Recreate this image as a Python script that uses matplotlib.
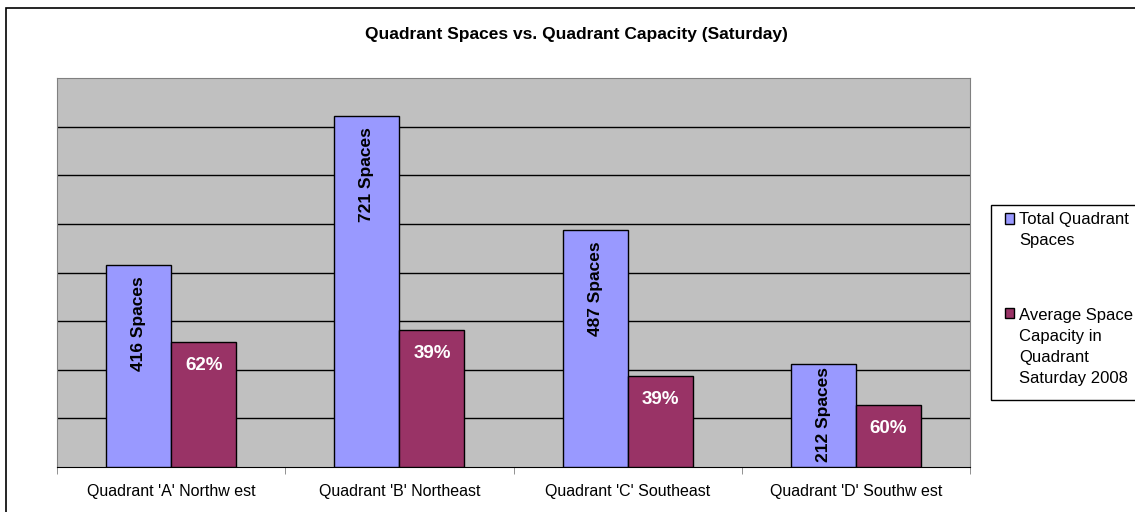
import matplotlib.pyplot as plt
import numpy as np
from matplotlib.patches import Rectangle
from matplotlib.container import BarContainer
from matplotlib.legend_handler import HandlerPatch

plt.rcParams['font.family'] = ['Liberation Sans', 'DejaVu Sans']

# data
quadrants = ["Quadrant 'A' Northw est", "Quadrant 'B' Northeast",
             "Quadrant 'C' Southeast", "Quadrant 'D' Southw est"]
total_spaces = [416, 721, 487, 212]
capacity_pct = [62, 39, 39, 60]
capacity_bar = [257, 282, 187, 127]   # bar heights of the capacity series

W, H = 1135, 512
LEG_FS = 12
LEG_LS = 1.5
fig = plt.figure(figsize=(W / 100, H / 100), dpi=100)

# outer chart border (left and top edges visible)
fig.patches.append(Rectangle((6 / W, -0.1), 1.2, 1 - 8 / H + 0.1,
                             transform=fig.transFigure, fill=False,
                             edgecolor='black', linewidth=1.2))
# legend box, runs off the right edge like the original
fig.patches.append(Rectangle((991 / W, 1 - 400 / H), 0.2, 195 / H,
                             transform=fig.transFigure, fill=True,
                             facecolor='white', edgecolor='black', linewidth=1))

ax = fig.add_axes([57 / W, 45 / H, 913 / W, 389 / H])
x = np.arange(len(quadrants))
w = 0.285

b1 = ax.bar(x - w / 2, total_spaces, w, color='#9999FF', edgecolor='black',
            linewidth=1, label='Total Quadrant\nSpaces', zorder=3)
b2 = ax.bar(x + w / 2, capacity_bar, w, color='#993366', edgecolor='black',
            linewidth=1, label='Average Space\nCapacity in\nQuadrant\nSaturday 2008',
            zorder=3)

space_labels = []
for rect, v in zip(b1, total_spaces):
    t = ax.annotate(f'{v} Spaces', (rect.get_x() + rect.get_width() / 2, rect.get_height()),
                    xytext=(0, -8), textcoords='offset points', rotation=90,
                    ha='center', va='top', fontsize=12.5, fontweight='bold', zorder=4)
    space_labels.append(t)
for rect, p in zip(b2, capacity_pct):
    ax.annotate(f'{p}%', (rect.get_x() + rect.get_width() / 2, rect.get_height()),
                xytext=(0, -17), textcoords='offset points',
                ha='center', va='center', fontsize=13.5, fontweight='bold',
                color='white', zorder=4)

ax.set_xlim(-0.5, 3.5)
ax.set_ylim(0, 800)
ax.set_facecolor('#C0C0C0')
ax.set_yticks(range(100, 800, 100))
ax.yaxis.grid(True, color='black', linewidth=1)
ax.set_axisbelow(True)
ax.tick_params(axis='y', length=0, labelleft=False)

ax.set_xticks(x)
ax.set_xticklabels(quadrants, fontsize=11.5)
ax.set_xticks(np.arange(-0.5, 4, 1), minor=True)
ax.tick_params(axis='x', which='major', length=0, pad=12.5)
ax.tick_params(axis='x', which='minor', length=5, direction='out', color='#808080')

for s in ['left', 'top', 'right']:
    ax.spines[s].set_color('#808080')
ax.spines['bottom'].set_color('black')

fig.text(576 / W, 1 - 35 / H, 'Quadrant Spaces vs. Quadrant Capacity (Saturday)',
         ha='center', va='center', fontsize=12.5, fontweight='bold')


# Excel puts the legend swatch next to the first line of a wrapped label
def top_square(legend, orig_handle, xdescent, ydescent, width, height, fontsize):
    nlines = orig_handle.get_label().count('\n') + 1
    lift = (nlines - 1) * 0.5 * fontsize * 0.9 * LEG_LS
    return Rectangle((-xdescent, -ydescent + lift), width, height)


def copy_first(legend_handle, orig_handle):
    legend_handle.update_from(orig_handle[0])


leg = fig.legend(loc='upper left', bbox_to_anchor=(998 / W, 1 - 205 / H),
                 bbox_transform=fig.transFigure, fontsize=LEG_FS, frameon=False,
                 handlelength=0.55, handleheight=0.55, handletextpad=0.3,
                 labelspacing=3.6, borderpad=0.4, borderaxespad=0,
                 handler_map={BarContainer: HandlerPatch(patch_func=top_square,
                                                         update_func=copy_first)})
for t in leg.get_texts():
    t.set_linespacing(LEG_LS)

# push a label up if it would run out of the bottom of a short bar
fig.canvas.draw()
base = ax.transData.transform((0, 0))[1]
for t in space_labels:
    y0 = t.get_window_extent().y0
    if y0 < base + 5:
        dx, dy = t.xyann
        t.xyann = (dx, dy + (base + 5 - y0) * 72 / fig.dpi)

fig.savefig('out.png', dpi=100)
